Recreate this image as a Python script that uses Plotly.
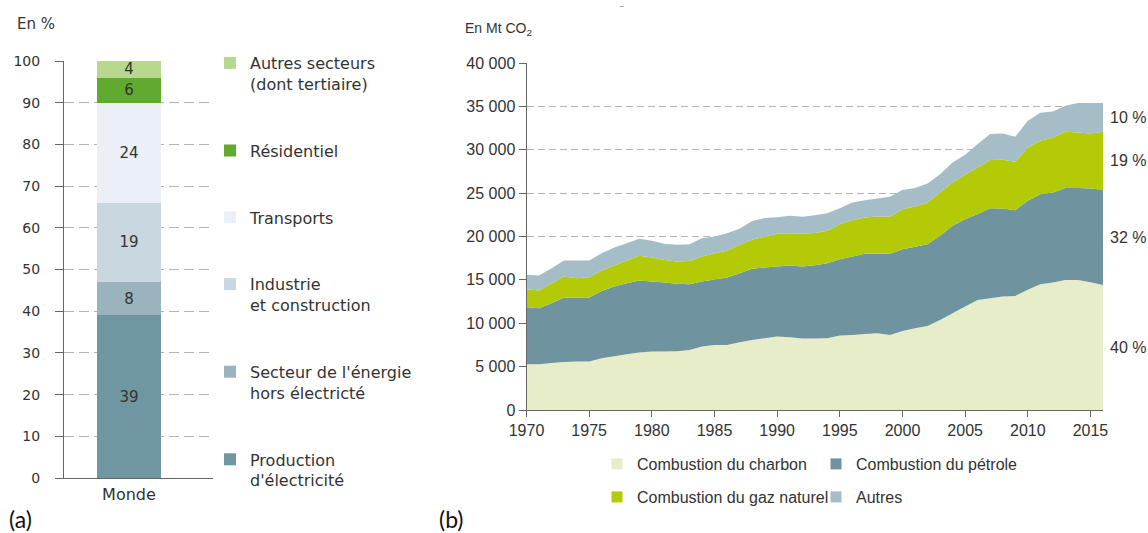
import plotly.graph_objects as go

# ---------------- Panel (a): emissions by sector (%) ----------------
category = ["Monde"]
sectors = [
    "Production<br>d'électricité",
    "Secteur de l'énergie<br>hors électricté",
    "Industrie<br>et construction",
    "Transports",
    "Résidentiel",
    "Autres secteurs<br>(dont tertiaire)",
]
shares = [39, 8, 19, 24, 6, 4]
sector_colors = ["#7096a2", "#9ab3bd", "#c9d8e0", "#eaf0f5", "#60ab2e", "#b8d78f"]
pct_ticks = list(range(0, 101, 10))

# ---------------- Panel (b): CO2 emissions by fuel (Mt CO2) ----------------
years = list(range(1970, 2017))
coal = [5270, 5270, 5420, 5540, 5580, 5580, 5960, 6190, 6420, 6620,
        6730, 6730, 6770, 6920, 7310, 7500, 7500, 7810, 8080, 8270,
        8460, 8380, 8230, 8230, 8270, 8580, 8650, 8770, 8850, 8650,
        9120, 9420, 9690, 10380, 11150, 11920, 12690, 12880, 13080, 13150,
        13850, 14500, 14690, 15000, 15000, 14730, 14420]
oil = [6580, 6460, 6890, 7420, 7380, 7380, 7770, 8040, 8200, 8300,
       8070, 7960, 7770, 7580, 7490, 7540, 7770, 7960, 8190, 8150,
       8080, 8270, 8310, 8470, 8650, 8800, 9040, 9230, 9150, 9350,
       9420, 9390, 9430, 9700, 10080, 10080, 9890, 10390, 10150, 9890,
       10270, 10380, 10390, 10580, 10580, 10810, 10960]
gas = [2070, 2040, 2310, 2420, 2230, 2340, 2350, 2420, 2610, 2850,
       2780, 2610, 2580, 2690, 2890, 3040, 3080, 3270, 3350, 3580,
       3770, 3730, 3810, 3700, 3730, 4040, 4190, 4190, 4310, 4270,
       4610, 4650, 4800, 5000, 5000, 5120, 5380, 5540, 5620, 5580,
       6150, 6160, 6340, 6500, 6420, 6340, 6700]
other = [1660, 1730, 1730, 1850, 2040, 1930, 2000, 2080, 2000, 1960,
         1920, 1850, 1920, 1910, 2110, 1920, 2030, 1840, 2180, 2120,
         1920, 2000, 1920, 2060, 2040, 1850, 2040, 2000, 2070, 2310,
         2200, 2120, 2200, 2110, 2310, 2300, 2690, 3000, 3030, 2880,
         3080, 3230, 3000, 3000, 3380, 3500, 3300]
fuel_names = ["Combustion du charbon", "Combustion du pétrole",
              "Combustion du gaz naturel", "Autres"]
fuel_colors = ["#e7edc9", "#6f94a0", "#b2cb06", "#a5bdc7"]
fuel_series = [coal, oil, gas, other]
share_labels = ["40 %", "32 %", "19 %", "10 %"]
co2_ticks = list(range(0, 40001, 5000))
year_ticks = list(range(1970, 2016, 5))

W, H = 1148, 533
FONT = "Liberation Sans, Arial, Helvetica, sans-serif"
FONT_A = "DejaVu Sans, Liberation Sans, sans-serif"
TXT = "#333333"
AX = "#666666"
GRID = "#b4b4b4"


def px_x(p):
    return p / W


def px_y(p):
    return 1 - p / H


fig = go.Figure()

# Panel (a) stacked bar
n = len(sectors)
for i, (name, val, col) in enumerate(zip(sectors, shares, sector_colors)):
    fig.add_trace(go.Bar(
        x=category, y=[val], name=name, marker=dict(color=col, line=dict(width=0)),
        width=0.4315, text=[str(val)], textposition="inside",
        insidetextanchor="middle", textangle=0,
        textfont=dict(size=15, color=TXT, family=FONT_A),
        legendgroup=name, legendrank=n - i, legend="legend",
        xaxis="x", yaxis="y", hoverinfo="skip",
    ))

# Panel (b) stacked areas
for name, vals, col in zip(fuel_names, fuel_series, fuel_colors):
    fig.add_trace(go.Scatter(
        x=years, y=vals, name=name, stackgroup="fuel", mode="none",
        fillcolor=col, line=dict(width=0), showlegend=False,
        xaxis="x2", yaxis="y2", hoverinfo="skip",
    ))

# legend entries (square swatches) for panel (b), two rows
for i, (name, col) in enumerate(zip(fuel_names, fuel_colors)):
    fig.add_trace(go.Scatter(
        x=[None], y=[None], name=name, mode="markers",
        marker=dict(symbol="square", size=11, color=col, line=dict(width=0)),
        legend="legend2" if i in (0, 1) else "legend3",
        xaxis="x2", yaxis="y2", hoverinfo="skip",
    ))

# share labels at right end of panel (b), placed at band middles
annotations = []
cum = 0
for vals, lab in zip(fuel_series, share_labels):
    v = vals[-1]
    annotations.append(dict(
        x=years[-1], y=cum + v / 2, xref="x2", yref="y2", text=lab,
        showarrow=False, xanchor="left", yanchor="middle", xshift=5,
        font=dict(size=16, color=TXT, family=FONT),
    ))
    cum += v

annotations += [
    dict(x=px_x(15), y=px_y(24), xref="paper", yref="paper", text="En %",
         showarrow=False, xanchor="left", yanchor="middle",
         font=dict(size=15, color=TXT, family=FONT_A)),
    dict(x=px_x(463), y=px_y(29), xref="paper", yref="paper",
         text="En Mt CO<sub>2</sub>", showarrow=False, xanchor="left",
         yanchor="middle", font=dict(size=14, color=TXT, family=FONT)),
    dict(x=px_x(7), y=px_y(519), xref="paper", yref="paper", text="(a)",
         showarrow=False, xanchor="left", yanchor="middle",
         font=dict(size=23, color="#111111", family="Lato, Liberation Sans, sans-serif")),
    dict(x=px_x(437), y=px_y(519), xref="paper", yref="paper", text="(b)",
         showarrow=False, xanchor="left", yanchor="middle",
         font=dict(size=23, color="#111111", family="Lato, Liberation Sans, sans-serif")),
    dict(x=px_x(621), y=px_y(11), xref="paper", yref="paper", text="‾",
         showarrow=False, xanchor="center", yanchor="middle",
         font=dict(size=10, color="#888888", family=FONT)),
]

fig.update_layout(
    width=W, height=H, margin=dict(l=0, r=0, t=0, b=0, autoexpand=False),
    paper_bgcolor="white", plot_bgcolor="rgba(0,0,0,0)",
    barmode="stack", separators=", ",
    font=dict(family=FONT, color=TXT, size=16),
    uniformtext=dict(minsize=15, mode="show"),
    xaxis=dict(
        domain=[px_x(64), px_x(213)], type="category", range=[-0.436, 0.564],
        showline=True, linecolor=AX, linewidth=1, ticks="", showgrid=False,
        tickfont=dict(size=16, color=TXT, family=FONT_A), ticklabelstandoff=2,
        fixedrange=True, automargin=False,
    ),
    yaxis=dict(
        domain=[px_y(478), px_y(61)], range=[0, 100], tickvals=pct_ticks,
        showline=True, linecolor=AX, linewidth=1, ticks="outside", ticklen=8,
        tickcolor=AX, showgrid=True, gridcolor=GRID, griddash="10px,5px",
        gridwidth=1.2, zeroline=False,
        tickfont=dict(size=14, color=TXT, family=FONT_A),
        ticklabelstandoff=12, fixedrange=True, automargin=False,
    ),
    xaxis2=dict(
        domain=[px_x(526.5), px_x(1103)], range=[1970, 2016], tickvals=year_ticks,
        showline=True, linecolor=AX, linewidth=1, ticks="outside", ticklen=6,
        tickcolor=AX, showgrid=False, zeroline=False, anchor="y2",
        tickfont=dict(size=16, color=TXT), ticklabelstandoff=0, fixedrange=True,
        automargin=False,
    ),
    yaxis2=dict(
        domain=[px_y(410), px_y(63)], range=[0, 40000], tickvals=co2_ticks,
        separatethousands=True, tickformat=",d",
        showline=True, linecolor=AX, linewidth=1, ticks="outside", ticklen=7,
        tickcolor=AX, showgrid=True, gridcolor=GRID, griddash="7px,4px",
        gridwidth=1.2, zeroline=False, anchor="x2",
        tickfont=dict(size=16, color=TXT), fixedrange=True, automargin=False,
    ),
    legend=dict(
        x=px_x(210), xanchor="left", y=px_y(46), yanchor="top",
        traceorder="grouped", tracegroupgap=43, valign="top",
        font=dict(size=16, color=TXT, family=FONT_A), bgcolor="rgba(0,0,0,0)",
    ),
    legend2=dict(
        orientation="h", x=px_x(597), xanchor="left", y=px_y(447), yanchor="top",
        entrywidth=174, font=dict(size=16, color=TXT), bgcolor="rgba(0,0,0,0)",
    ),
    legend3=dict(
        orientation="h", x=px_x(597), xanchor="left", y=px_y(480), yanchor="top",
        entrywidth=174, font=dict(size=16, color=TXT), bgcolor="rgba(0,0,0,0)",
    ),
    annotations=annotations,
)

fig.write_html(
    "out.html",
    config={"displayModeBar": False},
    post_script="document.body.style.margin='0';document.body.style.overflow='hidden';",
)
